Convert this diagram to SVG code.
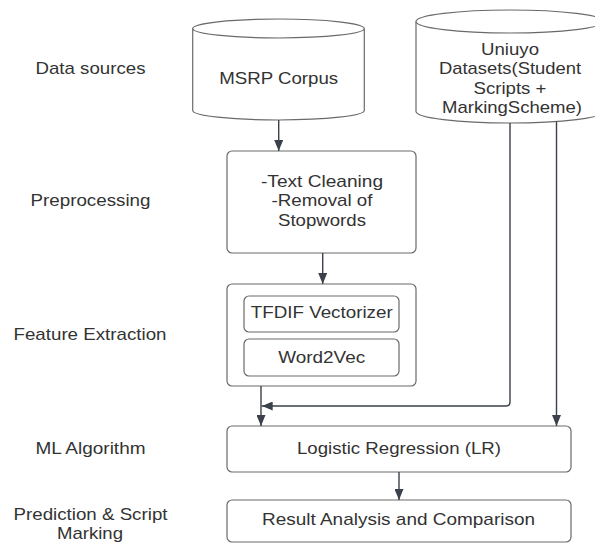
<svg xmlns="http://www.w3.org/2000/svg" width="595" height="543" viewBox="0 0 595 543">
<style>
  .lbl { font-family: "Liberation Sans", Arial, sans-serif; font-size: 17px; fill: #333333; text-anchor: middle; }
  .shape { fill: #ffffff; stroke: #6a6a6a; stroke-width: 1.2; }
  .conn { fill: none; stroke: #3a414a; stroke-width: 1.4; }
</style>
<defs>
  <marker id="arrow" markerUnits="userSpaceOnUse" markerWidth="11" markerHeight="9" viewBox="0 0 11 9" refX="11" refY="4.5" orient="auto">
    <path d="M0,0 L11,4.5 L0,9 Z" fill="#3a414a"/>
  </marker>
</defs>
<rect width="595" height="543" fill="#ffffff"/>

<g id="stage-labels">
  <text class="lbl" x="90.5" y="74" textLength="110" lengthAdjust="spacingAndGlyphs">Data sources</text>
  <text class="lbl" x="90.5" y="205.5" textLength="120" lengthAdjust="spacingAndGlyphs">Preprocessing</text>
  <text class="lbl" x="90" y="340" textLength="153" lengthAdjust="spacingAndGlyphs">Feature Extraction</text>
  <text class="lbl" x="90.5" y="454" textLength="110" lengthAdjust="spacingAndGlyphs">ML Algorithm</text>
  <text class="lbl" x="90.5" y="520" textLength="154" lengthAdjust="spacingAndGlyphs">Prediction &amp; Script</text>
  <text class="lbl" x="90" y="539" textLength="66" lengthAdjust="spacingAndGlyphs">Marking</text>
</g>

<g id="msrp-corpus">
  <path class="shape" d="M192.7,28.5 V110.5 A85.8,9.5 0 0 0 364.3,110.5 V28.5"/>
  <ellipse class="shape" cx="278.5" cy="28.5" rx="85.8" ry="9.5"/>
  <text class="lbl" x="278.7" y="84" textLength="119" lengthAdjust="spacingAndGlyphs">MSRP Corpus</text>
</g>

<g id="uniuyo-datasets">
  <path class="shape" d="M416,21.5 V111.5 A94,11.5 0 0 0 604,111.5 V21.5"/>
  <ellipse class="shape" cx="510" cy="21.5" rx="94" ry="11.5"/>
  <text class="lbl" x="510" y="55" textLength="58" lengthAdjust="spacingAndGlyphs">Uniuyo</text>
  <text class="lbl" x="510" y="74.2" textLength="142" lengthAdjust="spacingAndGlyphs">Datasets(Student</text>
  <text class="lbl" x="510" y="93.5" textLength="73" lengthAdjust="spacingAndGlyphs">Scripts +</text>
  <text class="lbl" x="512" y="112.8" textLength="140" lengthAdjust="spacingAndGlyphs">MarkingScheme)</text>
</g>

<g id="preprocessing">
  <rect class="shape" x="227" y="151" width="189" height="102" rx="5"/>
  <text class="lbl" x="322" y="186.5" textLength="122" lengthAdjust="spacingAndGlyphs">-Text Cleaning</text>
  <text class="lbl" x="322" y="206" textLength="101" lengthAdjust="spacingAndGlyphs">-Removal of</text>
  <text class="lbl" x="322" y="225.5" textLength="88" lengthAdjust="spacingAndGlyphs">Stopwords</text>
</g>

<g id="feature-extraction">
  <rect class="shape" x="227" y="284" width="189" height="102" rx="5"/>
  <g id="tfidf-vectorizer">
    <rect class="shape" x="244" y="296" width="155" height="36" rx="5"/>
    <text class="lbl" x="321.7" y="318.3" textLength="142" lengthAdjust="spacingAndGlyphs">TFDIF Vectorizer</text>
  </g>
  <g id="word2vec">
    <rect class="shape" x="244" y="339" width="155" height="37" rx="5"/>
    <text class="lbl" x="321.7" y="362.7" textLength="87" lengthAdjust="spacingAndGlyphs">Word2Vec</text>
  </g>
</g>

<g id="logistic-regression">
  <rect class="shape" x="227" y="426" width="344" height="46" rx="5"/>
  <text class="lbl" x="399" y="454" textLength="204" lengthAdjust="spacingAndGlyphs">Logistic Regression (LR)</text>
</g>

<g id="result-analysis">
  <rect class="shape" x="227" y="500" width="344" height="42" rx="5"/>
  <text class="lbl" x="398.5" y="525" textLength="273" lengthAdjust="spacingAndGlyphs">Result Analysis and Comparison</text>
</g>

<g id="connectors">
  <path class="conn" d="M278.7,120 V151" marker-end="url(#arrow)"/>
  <path class="conn" d="M322.7,253 V284" marker-end="url(#arrow)"/>
  <path class="conn" d="M261,386 V426" marker-end="url(#arrow)"/>
  <path class="conn" d="M510,123 V402 Q510,406 506,406 H261.7" marker-end="url(#arrow)"/>
  <path class="conn" d="M556.5,121.5 V426" marker-end="url(#arrow)"/>
  <path class="conn" d="M399,472 V500" marker-end="url(#arrow)"/>
</g>
</svg>
